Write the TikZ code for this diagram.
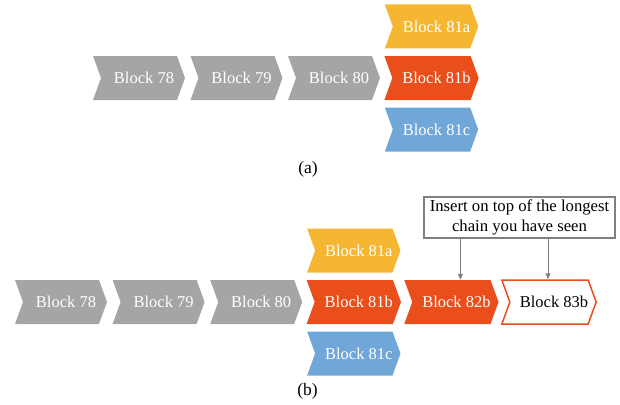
\documentclass[tikz,border=0pt]{standalone}
\usepackage{fontspec}
\setmainfont{Liberation Serif}
\usetikzlibrary{shapes.symbols,arrows.meta,positioning}
\definecolor{blkgray}{HTML}{A5A5A5}
\definecolor{blkyellow}{HTML}{F5B731}
\definecolor{blkred}{HTML}{E94E1B}
\definecolor{blkblue}{HTML}{70A7D8}
\definecolor{notegray}{HTML}{808080}
\begin{document}
\begin{tikzpicture}[
    x=1pt, y=1pt,
    node distance=97.5pt,
    block/.style={
        signal,
        signal to=east,
        signal from=west,
        signal pointer angle=140,
        minimum width=92pt,
        minimum height=44pt,
        inner xsep=0pt,
        inner ysep=0pt,
        text=white,
        execute at begin node={\hspace*{10pt}},
        font=\fontsize{16.5}{19}\selectfont
    },
    oldblock/.style={block, fill=blkgray},
    forka/.style={block, fill=blkyellow},
    forkb/.style={block, fill=blkred},
    forkc/.style={block, fill=blkblue},
    newblock/.style={block, draw=blkred, line width=1.5pt, fill=white, text=black},
    note/.style={
        rectangle,
        draw=notegray,
        line width=2pt,
        fill=white,
        minimum width=191pt,
        minimum height=41pt,
        inner sep=2pt,
        align=center,
        font=\fontsize{16.7}{19.3}\selectfont
    },
    pointer/.style={
        -{Triangle[length=6pt,width=5pt]},
        draw=notegray,
        line width=1pt
    },
    caption/.style={font=\fontsize{17.5}{19}\selectfont}
]
\useasboundingbox (0,0) rectangle (620,-404);

% (a) - fork
\node[oldblock] (a78) at (139,-78) {Block 78};
\node[oldblock, right of=a78] (a79) {Block 79};
\node[oldblock, right of=a79] (a80) {Block 80};
\node[forkb, right of=a80] (a81b) {Block 81b};
\node[forka, above of=a81b, node distance=51.5pt] (a81a) {Block 81a};
\node[forkc, below of=a81b, node distance=51.5pt] (a81c) {Block 81c};
\node[caption] (capa) at (308,-169) {(a)};

% (b) - longest chain
\node[oldblock] (b78) at (61,-302) {Block 78};
\node[oldblock, right of=b78, node distance=97.6pt] (b79) {Block 79};
\node[oldblock, right of=b79, node distance=97.6pt] (b80) {Block 80};
\node[forkb, right of=b80, node distance=97.6pt] (b81b) {Block 81b};
\node[forka, above of=b81b, node distance=51.5pt] (b81a) {Block 81a};
\node[forkc, below of=b81b, node distance=51.5pt] (b81c) {Block 81c};
\node[forkb, right of=b81b, node distance=97.6pt] (b82b) {Block 82b};
\node[newblock, right of=b82b, node distance=97.6pt] (b83b) {Block 83b};
\node[caption] (capb) at (307.5,-391.5) {(b)};

% Note
\node[note] (rule) at (519.5,-217.5) {Insert on top of the longest\\chain you have seen};
\draw[pointer] ([xshift=9pt]b82b.north |- rule.south) -- ([xshift=9pt]b82b.north);
\draw[pointer] ([xshift=-1pt]b83b.north |- rule.south) -- ([xshift=-1pt]b83b.north);

\end{tikzpicture}
\end{document}
